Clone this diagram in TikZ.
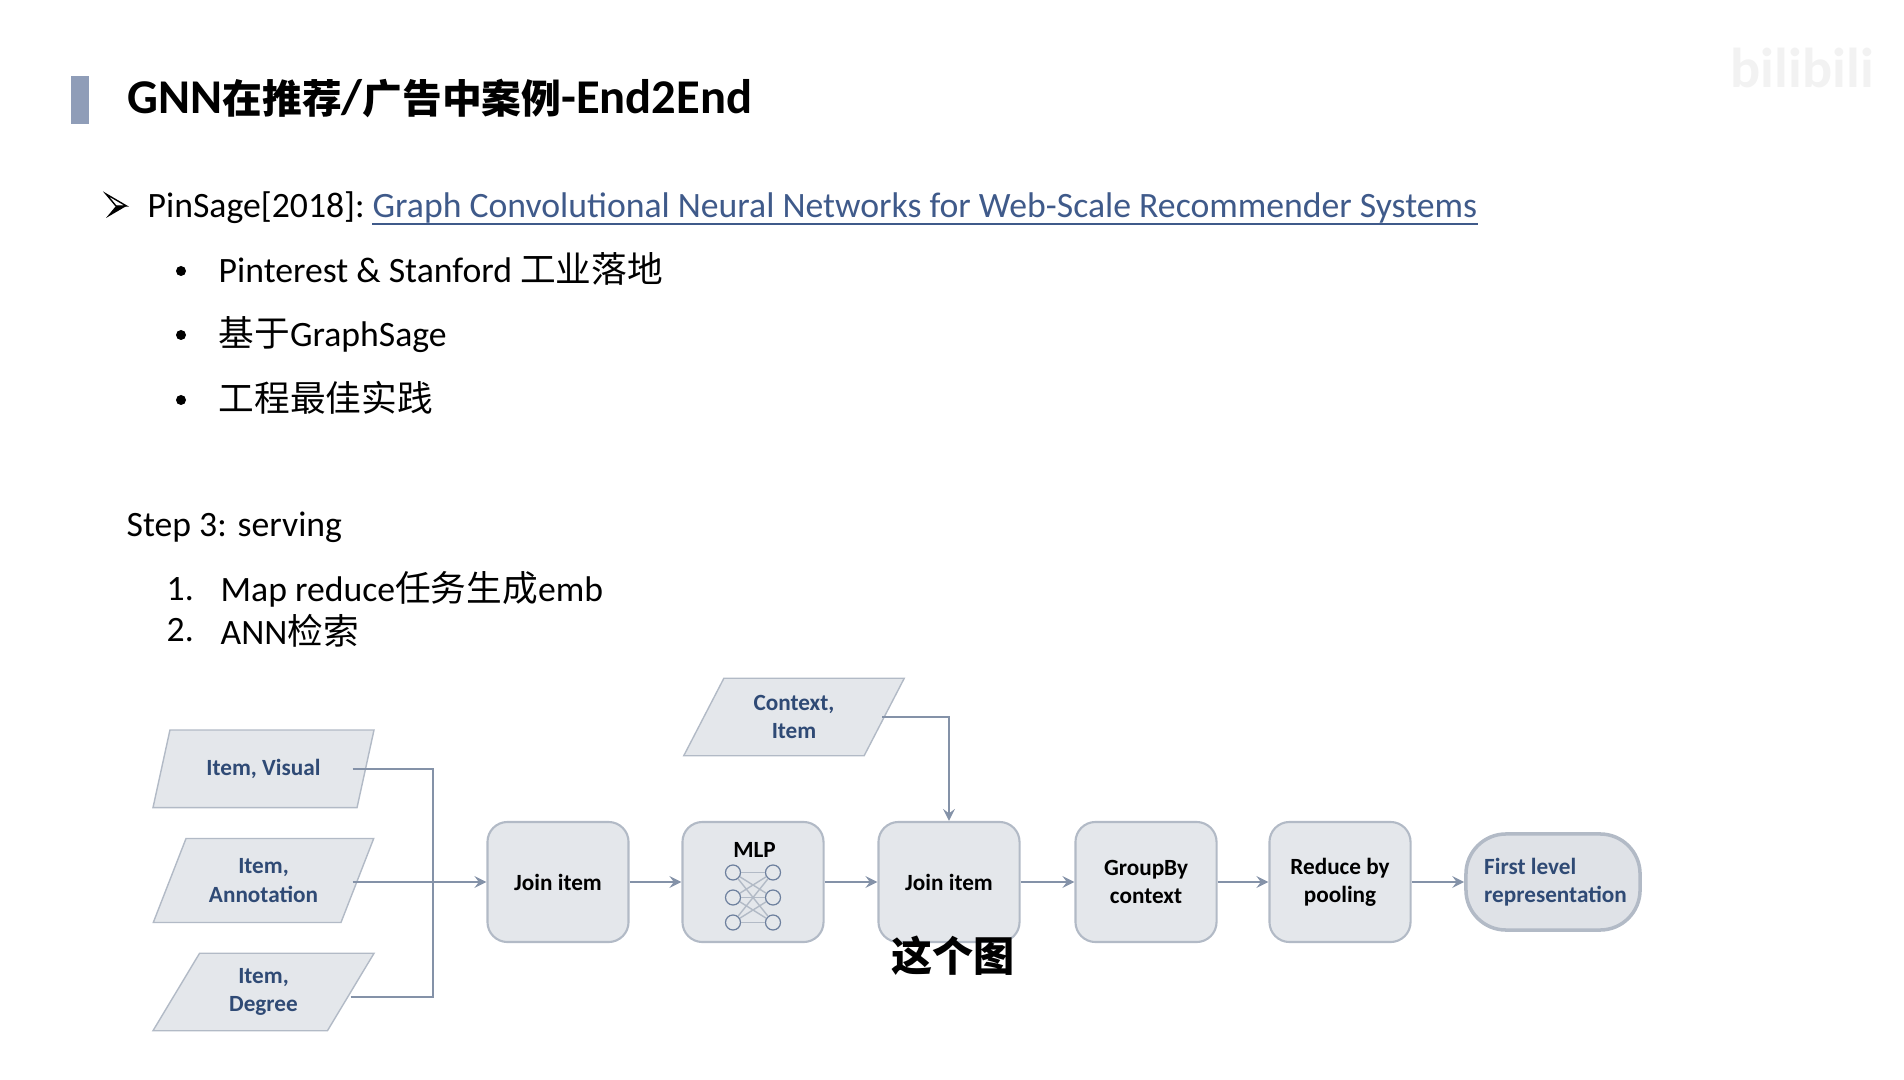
\documentclass[tikz,border=0pt]{standalone}
\usepackage{fontspec}
\usepackage{tikz}
\usetikzlibrary{shapes.geometric}
\setmainfont{Carlito}
\newfontfamily\cjk{Noto Sans CJK SC}
\definecolor{slidebar}{HTML}{8F9DB8}
\definecolor{flowfill}{HTML}{E4E7EB}
\definecolor{flowline}{HTML}{B2BAC6}
\definecolor{arrowline}{HTML}{8492A8}
\definecolor{linkblue}{HTML}{3F5A8A}
\definecolor{itemblue}{HTML}{2F4A75}
\newcommand{\titlezh}[1]{{\cjk\fontsize{11.3}{14}\selectfont #1}}
\tikzset{
    bodytext/.style={anchor=west,inner sep=0pt,font=\fontsize{10.15}{12}\selectfont},
    bodybase/.style={anchor=base west,inner sep=0pt,font=\fontsize{10.15}{12}\selectfont},
    bulletdot/.style={inner sep=0pt,circle,fill=black,minimum size=0.1cm},
    datafig/.style={trapezium,trapezium left angle=62,trapezium right angle=118,trapezium stretches=true,
        minimum width=2.21cm,minimum height=0.775cm,inner sep=0pt,fill=flowfill,draw=flowline,line width=0.4pt,
        text=itemblue,align=center,font=\bfseries\fontsize{6.6}{8}\selectfont},
    stepbox/.style={rectangle,rounded corners=0.2cm,minimum width=1.41cm,minimum height=1.2cm,inner sep=0pt,
        fill=flowfill,draw=flowline,line width=0.6pt,align=center,font=\bfseries\fontsize{6.6}{8}\selectfont},
    flowarrow/.style={draw=arrowline,line width=0.5pt,>=stealth},
    dot/.style={circle,minimum size=0.15cm,inner sep=0pt,draw=itemblue!70,line width=0.35pt,fill=flowfill}
}
\begin{document}
\begin{tikzpicture}[x=0.01cm,y=-0.01cm]
    \useasboundingbox (0,0) rectangle (1904,1080);
    % heading
    \fill[slidebar] (71,76) rectangle (89,124);
    \node[anchor=west,inner sep=0pt,font=\bfseries\fontsize{13.8}{16}\selectfont] (title) at (127,99)
        {GNN\titlezh{在推荐}/\titlezh{广告中案例}-End2End};
    \draw[line width=0.4pt,line join=miter] (106,194) -- (126.5,206) -- (116,206) -- cycle;
    \fill (106,218) -- (126.5,206) -- (116,206) -- cycle;
    \node[bodybase] (pinsage) at (147,218) {PinSage[2018]:};
    \node[bodybase,text=linkblue] (pinlink) at (372,218) {Graph Convolutional Neural Networks for Web-Scale Recommender Systems};
    \draw[linkblue,line width=0.5pt] ([yshift=-0.06cm]pinlink.base west) -- ([yshift=-0.06cm]pinlink.base east);
    \node[bulletdot] (dot1) at (181,271) {};
    \node[bodytext] (line1) at (218,268.5) {Pinterest \& Stanford {\cjk 工业落地}};
    \node[bulletdot] (dot2) at (181,335) {};
    \node[bodytext] (line2) at (218,335) {{\cjk 基于}GraphSage};
    \node[bulletdot] (dot3) at (181,400) {};
    \node[bodytext] (line3) at (218,398) {{\cjk 工程最佳实践}};
    % serving
    \node[bodytext] (serving) at (126,527) {Step 3: serving};
    \node[bodytext] (num1) at (166,589) {1.};
    \node[bodytext] (task1) at (220,589) {Map reduce{\cjk 任务生成}emb};
    \node[bodytext] (num2) at (166,630.5) {2.};
    \node[bodytext] (task2) at (220,630.5) {ANN{\cjk 检索}};
    % inputs
    \node[datafig] (visual) at (263.5,768.8) {Item, Visual};
    \node[datafig,minimum height=0.84cm] (annot) at (263.5,880.5) {Item,\\Annotation};
    \node[datafig] (degree) at (263.5,992) {Item,\\Degree};
    \node[datafig] (context) at (794,717) {Context,\\Item};
    % pipeline
    \node[stepbox] (joina) at (558,882) {Join item};
    \node[stepbox] (mlp) at (753,882) {};
    \node[inner sep=0pt,font=\bfseries\fontsize{6.6}{8}\selectfont] (mlptext) at (754.5,849.5) {MLP};
    \node[stepbox] (joinb) at (949,882) {Join item};
    \node[stepbox] (groupby) at (1146,882) {GroupBy\\context};
    \node[stepbox] (reduce) at (1340,882) {Reduce by\\pooling};
    \node[stepbox,rounded corners=0.4cm,minimum width=1.74cm,minimum height=0.96cm,line width=1pt,
        text=itemblue,fill=flowfill!90!flowline,align=left] (first) at (1553,882)
        {\hspace*{0.05cm}First level\\\hspace*{0.05cm}representation};
    % mlp icon
    \foreach \row/\ypos in {a/872.5,b/897.5,c/922.5} {
        \node[dot] (l\row) at (733,\ypos) {};
        \node[dot] (r\row) at (773,\ypos) {};
    }
    \foreach \from in {a,b,c}
        \foreach \to in {a,b,c}
            \draw[flowline,line width=0.4pt] (l\from) -- (r\to);
    % connectors
    \coordinate (bus) at (433,882);
    \draw[flowarrow] ([xshift=0.89cm]visual.center) -| (bus);
    \draw[flowarrow] ([xshift=0.87cm,yshift=-0.05cm]degree.center) -| (bus);
    \draw[flowarrow,->] ([xshift=0.89cm]annot.center |- joina.west) -- (joina.west);
    \draw[flowarrow,->] (joina) -- (mlp);
    \draw[flowarrow,->] (mlp) -- (joinb);
    \draw[flowarrow,->] (joinb) -- (groupby);
    \draw[flowarrow,->] (groupby) -- (reduce);
    \draw[flowarrow,->] (reduce) -- (first);
    \draw[flowarrow,->] ([xshift=0.88cm]context.center) -| (joinb.north);
    % caption over the picture
    \node[inner sep=0pt,font=\cjk\bfseries\fontsize{11.7}{13}\selectfont] (caption) at (953,956) {这个图};
    \node[inner sep=0pt,text=black!5,font=\bfseries\fontsize{16}{18}\selectfont] (mark) at (1802,68) {bilibili};
\end{tikzpicture}
\end{document}
